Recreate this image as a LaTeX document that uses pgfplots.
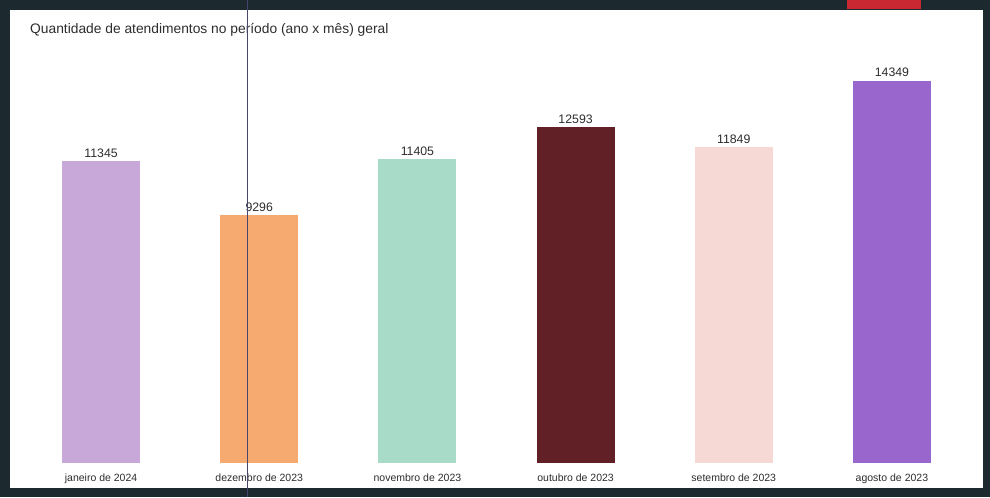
\documentclass[border=0pt]{standalone}
\usepackage{pgfplots}
\pgfplotsset{compat=1.18}
\usepackage{fontspec}
\setmainfont{Liberation Sans}
\definecolor{framedark}{RGB}{28,42,48}
\definecolor{redtab}{RGB}{200,40,50}
\definecolor{txtgray}{RGB}{45,45,45}
\definecolor{cursorline}{RGB}{70,70,110}
\definecolor{cjan}{RGB}{200,168,216}
\definecolor{cdez}{RGB}{246,170,112}
\definecolor{cnov}{RGB}{168,220,200}
\definecolor{cout}{RGB}{96,32,38}
\definecolor{cset}{RGB}{246,216,212}
\definecolor{cago}{RGB}{152,102,204}
\begin{document}
\begin{tikzpicture}[x=1pt,y=1pt]
\fill[framedark] (0,0) rectangle (990,497);
\fill[white] (10,9) rectangle (983,487);
\fill[redtab] (847,488) rectangle (921,497);
\node[anchor=west, font=\fontsize{13.8}{16}\selectfont, text=txtgray, inner sep=0pt] at (30,468) {Quantidade de atendimentos no período (ano x mês) geral};
\begin{axis}[
  at={(22pt,34pt)}, anchor=south west,
  width=949pt, height=427pt, scale only axis,
  xmin=-0.5, xmax=5.5, ymin=0, ymax=16000,
  axis line style={draw=none}, tick style={draw=none},
  ytick=\empty,
  xtick={0,1,2,3,4,5},
  xticklabels={janeiro de 2024, dezembro de 2023, novembro de 2023, outubro de 2023, setembro de 2023, agosto de 2023},
  xticklabel style={font=\fontsize{10.5}{12}\selectfont, text=txtgray, yshift=-3pt},
  ybar, bar width=78pt, bar shift=0pt,
  nodes near coords,
  every node near coord/.append style={font=\fontsize{12.3}{14}\selectfont, text=txtgray, /pgf/number format/1000 sep={}, /pgf/number format/assume math mode=true},
  /pgf/number format/assume math mode=true,
]
\addplot[fill=cjan, draw=none] coordinates {(0,11345)};
\addplot[fill=cdez, draw=none] coordinates {(1,9296)};
\addplot[fill=cnov, draw=none] coordinates {(2,11405)};
\addplot[fill=cout, draw=none] coordinates {(3,12593)};
\addplot[fill=cset, draw=none] coordinates {(4,11849)};
\addplot[fill=cago, draw=none] coordinates {(5,14349)};
\end{axis}
\draw[cursorline, line width=0.9pt] (247,0) -- (247,497);
\end{tikzpicture}
\end{document}
